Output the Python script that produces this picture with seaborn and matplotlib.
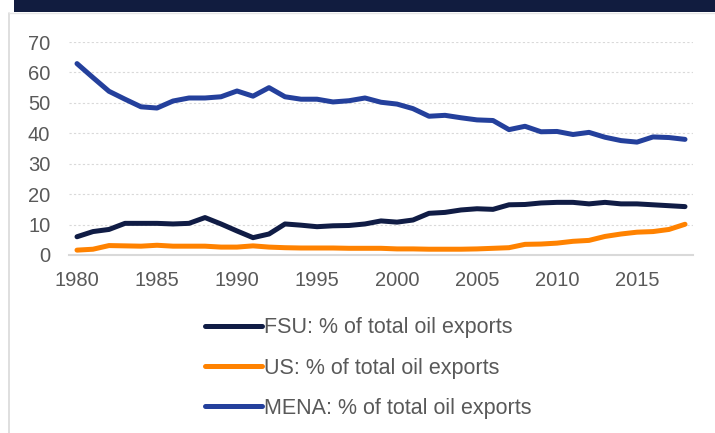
import numpy as np
import pandas as pd
import matplotlib.pyplot as plt
import seaborn as sns
from matplotlib.lines import Line2D

years = list(range(1980, 2019))

fsu = [6.0, 7.7, 8.4, 10.4, 10.4, 10.4, 10.2, 10.4, 12.3, 10.2,
       7.9, 5.7, 6.9, 10.2, 9.8, 9.3, 9.6, 9.7, 10.2, 11.2,
       10.8, 11.5, 13.7, 14.0, 14.8, 15.2, 15.0, 16.5, 16.6, 17.1,
       17.3, 17.3, 16.8, 17.3, 16.8, 16.8, 16.5, 16.2, 15.9]
us = [1.6, 1.9, 3.1, 3.0, 2.9, 3.2, 2.9, 2.9, 2.9, 2.6,
      2.6, 3.0, 2.6, 2.4, 2.3, 2.3, 2.3, 2.2, 2.2, 2.2,
      2.0, 2.0, 1.9, 1.9, 1.9, 2.0, 2.2, 2.4, 3.5, 3.6,
      3.9, 4.5, 4.8, 6.1, 6.9, 7.5, 7.7, 8.4, 10.1]
mena = [62.9, 58.3, 53.8, 51.2, 48.7, 48.3, 50.6, 51.6, 51.6, 52.0,
        53.9, 52.2, 55.0, 52.0, 51.2, 51.2, 50.3, 50.7, 51.6, 50.2,
        49.6, 48.1, 45.6, 45.9, 45.1, 44.4, 44.2, 41.2, 42.3, 40.5,
        40.6, 39.6, 40.3, 38.7, 37.6, 37.1, 38.8, 38.6, 38.0]

labels = ['FSU: % of total oil exports', 'US: % of total oil exports',
          'MENA: % of total oil exports']
colors = ['#101c45', '#ff8200', '#24409c']

df = pd.DataFrame({'year': years * 3,
                   'value': fsu + us + mena,
                   'series': [labels[0]] * len(years) + [labels[1]] * len(years)
                             + [labels[2]] * len(years)})

sns.set_style('white')
plt.rcParams['font.family'] = ['Liberation Sans', 'DejaVu Sans']
text_col = '#595959'

fig = plt.figure(figsize=(7.15, 4.33), dpi=100)

# header band and panel border
fig.add_artist(plt.Rectangle((14 / 715, 1 - 12 / 433), 1, 12 / 433,
                             transform=fig.transFigure, color='#111c3f', lw=0))
fig.add_artist(Line2D([9 / 715, 9 / 715], [0, 1 - 13 / 433], transform=fig.transFigure,
                      color='#d9d9d9', lw=1.2))
fig.add_artist(Line2D([9 / 715, 1], [1 - 13 / 433, 1 - 13 / 433], transform=fig.transFigure,
                      color='#e6e6e6', lw=1.0))

ax = fig.add_axes([69 / 715, 1 - 255 / 433, (693 - 69) / 715, (255 - 42) / 433])
sns.lineplot(data=df, x='year', y='value', hue='series', palette=colors,
             linewidth=3.6, ax=ax, legend=False)
for ln in ax.lines:
    ln.set_solid_capstyle('round')
    ln.set_solid_joinstyle('round')

ax.set_xlim(1979.5, 2018.5)
ax.set_ylim(0, 70)
ax.set_yticks(range(0, 71, 10))
ax.set_xticks(range(1980, 2019, 5))
ax.set_xticks(np.arange(1979.5, 2018, 5), minor=True)
ax.tick_params(axis='x', which='major', length=0, pad=11.5, labelsize=14.5, labelcolor=text_col)
ax.tick_params(axis='x', which='minor', length=5, width=1.2, color='#d9d9d9', direction='out')
ax.tick_params(axis='y', length=0, pad=13.5, labelsize=14.5, labelcolor=text_col)
ax.grid(axis='y', color='#d9d9d9', linestyle=(0, (2, 2)), linewidth=0.8)
ax.set_axisbelow(True)
for s in ['top', 'right', 'left']:
    ax.spines[s].set_visible(False)
ax.spines['bottom'].set_color('#d9d9d9')
ax.spines['bottom'].set_linewidth(1.5)
ax.set_xlabel('')
ax.set_ylabel('')

handles = [Line2D([0], [0], color=c, lw=3.6, solid_capstyle='round') for c in colors]
leg = fig.legend(handles, labels, loc='center', bbox_to_anchor=(0.515, 0.15),
                 frameon=False, fontsize=15.5, handlelength=2.65, handletextpad=0.1,
                 labelspacing=0.9)
for t in leg.get_texts():
    t.set_color(text_col)

fig.savefig('out.png', dpi=100)
